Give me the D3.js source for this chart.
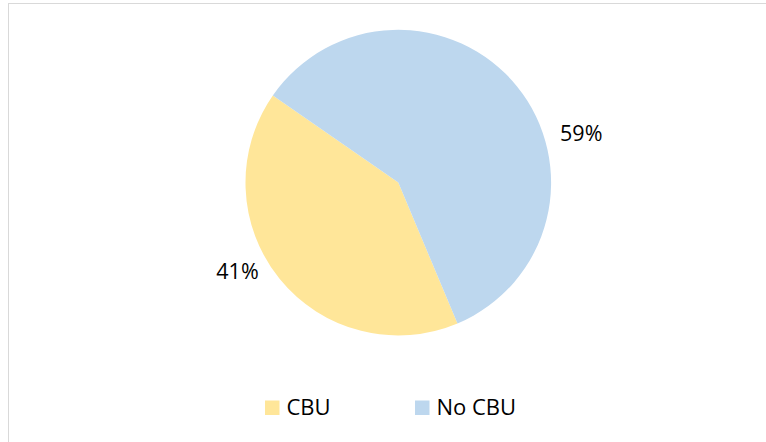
<!DOCTYPE html>
<html>
<head>
<meta charset="utf-8">
<script src="https://cdn.jsdelivr.net/npm/d3@7"></script>
<style>
  body { margin: 0; background: #fff; }
  svg { display: block; }
  text { font-family: "Open Sans", "Liberation Sans", Arial, sans-serif; fill: #000; }
</style>
</head>
<body>
<svg id="chart" width="766" height="442"></svg>
<script>
// data
var categories = ["CBU", "No CBU"];
var shares = [41, 59];
var labels = ["41%", "59%"];
var colors = ["#FFE699", "#BDD7EE"];

var width = 766, height = 442;
var cx = 398.3, cy = 182.6, radius = 152.8;
var firstSliceDeg = 157.2; // excel "angle of first slice"

// label placement (excel moved them, so keep angle/distance per label)
var labelDeg = [241.2, 75];
var labelDist = [183.5, 189.4];

var svg = d3.select("#chart");

// chart frame, cut off at right and bottom like the screenshot
svg.append("rect")
    .attr("x", 8.5).attr("y", 3.5)
    .attr("width", 800).attr("height", 500)
    .attr("fill", "none")
    .attr("stroke", "#d9d9d9")
    .attr("stroke-width", 1);

var start = firstSliceDeg * Math.PI / 180;
var pie = d3.pie()
    .sort(null)
    .startAngle(start)
    .endAngle(start + 2 * Math.PI);

var arc = d3.arc().innerRadius(0).outerRadius(radius);

var g = svg.append("g").attr("transform", "translate(" + cx + "," + cy + ")");

g.selectAll("path")
    .data(pie(shares))
    .enter().append("path")
    .attr("d", arc)
    .attr("fill", function(d, i) { return colors[i]; });

g.selectAll("text.lbl")
    .data(labels)
    .enter().append("text")
    .attr("class", "lbl")
    .attr("x", function(d, i) { return labelDist[i] * Math.sin(labelDeg[i] * Math.PI / 180); })
    .attr("y", function(d, i) { return -labelDist[i] * Math.cos(labelDeg[i] * Math.PI / 180); })
    .attr("dy", "0.36em")
    .attr("text-anchor", "middle")
    .style("font-size", "21.5px")
    .text(function(d) { return d; });

// legend
var legendX = d3.scaleBand().domain(categories).range([265, 565]);
var legend = svg.append("g").attr("transform", "translate(0,400.5)");

var item = legend.selectAll("g")
    .data(categories)
    .enter().append("g")
    .attr("transform", function(d) { return "translate(" + legendX(d) + ",0)"; });

item.append("rect")
    .attr("width", 14.5).attr("height", 14.5)
    .attr("fill", function(d, i) { return colors[i]; });

item.append("text")
    .attr("x", 21.5)
    .attr("y", 14.8)
    .style("font-size", "22px")
    .text(function(d) { return d; });
</script>
</body>
</html>
